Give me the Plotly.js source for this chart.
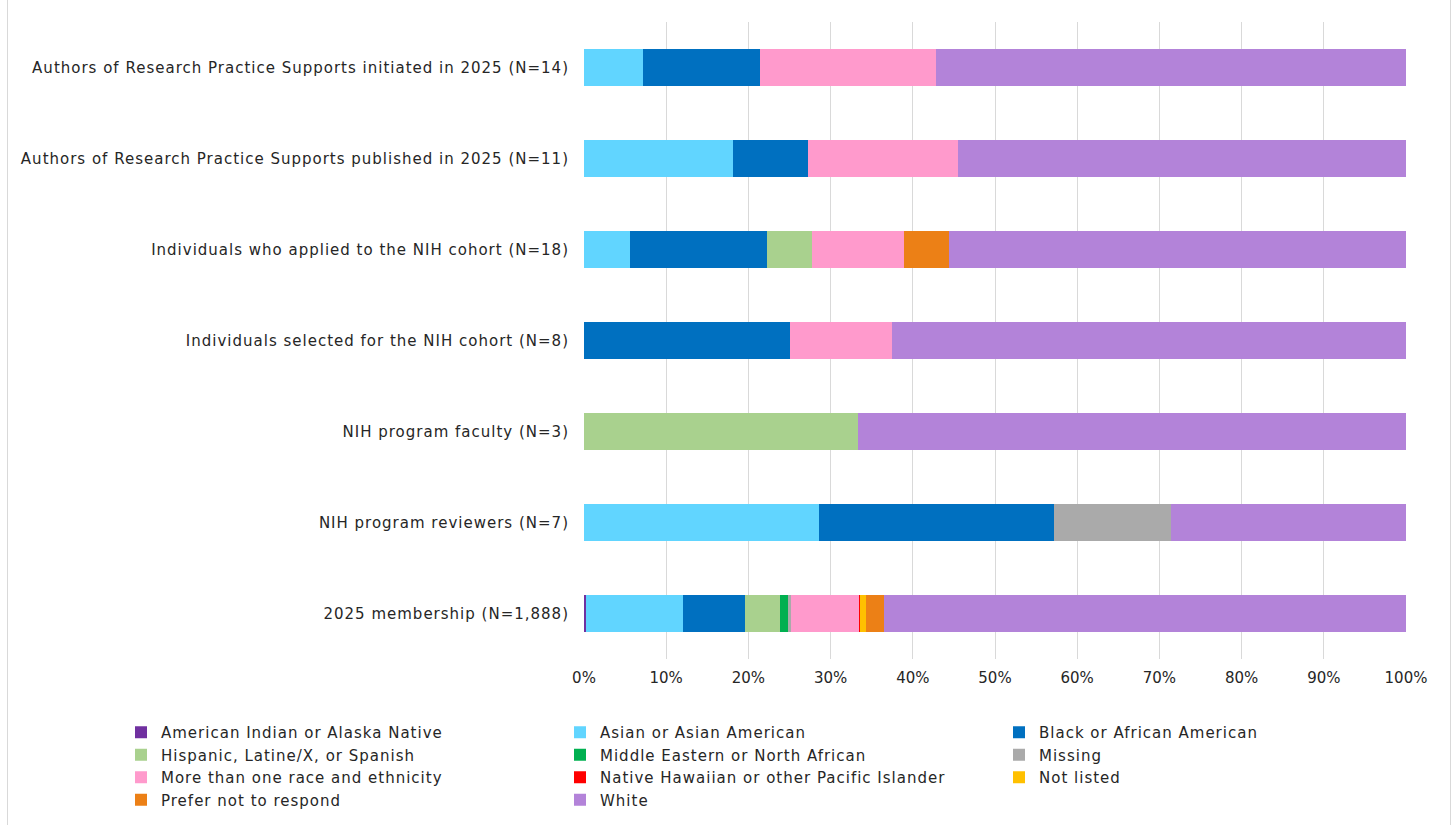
<!DOCTYPE html>
<html>
<head>
<meta charset="utf-8">
<script src="https://cdn.plot.ly/plotly-3.0.1.min.js"></script>
<style>
html,body{margin:0;padding:0;background:#fff;}
#chart{position:absolute;left:0;top:0;width:1453px;height:825px;}
#frame{position:absolute;left:7px;top:-2px;width:1442px;height:828px;border:1px solid #d9d9d9;pointer-events:none;}
#chart .ytick text, #chart .legendtext{letter-spacing:1px;}
</style>
</head>
<body>
<div id="chart"></div>
<div id="frame"></div>
<script>
// Categories (bottom to top as drawn)
const categories = [
  "2025 membership (N=1,888)",
  "NIH program reviewers (N=7)",
  "NIH program faculty (N=3)",
  "Individuals selected for the NIH cohort (N=8)",
  "Individuals who applied to the NIH cohort (N=18)",
  "Authors of Research Practice Supports published in 2025 (N=11)",
  "Authors of Research Practice Supports initiated in 2025 (N=14)"
];

const seriesNames = [
  "American Indian or Alaska Native",
  "Asian or Asian American",
  "Black or African American",
  "Hispanic, Latine/X, or Spanish",
  "Middle Eastern or North African",
  "Missing",
  "More than one race and ethnicity",
  "Native Hawaiian or other Pacific Islander",
  "Not listed",
  "Prefer not to respond",
  "White"
];

// Shares (fractions), same order as categories
const aian     = [0.002, 0,     0,     0,     0,     0,     0];
const asian    = [0.119, 0.2857,0,     0,     0.0556,0.1818,0.0714];
const black    = [0.075, 0.2857,0,     0.25,  0.1667,0.0909,0.1429];
const hispanic = [0.042, 0,     0.3333,0,     0.0556,0,     0];
const mena     = [0.010, 0,     0,     0,     0,     0,     0];
const missing  = [0.004, 0.1429,0,     0,     0,     0,     0];
const multi    = [0.082, 0,     0,     0.125, 0.1111,0.1818,0.2143];
const nhpi     = [0.002, 0,     0,     0,     0,     0,     0];
const notListed= [0.007, 0,     0,     0,     0,     0,     0];
const preferNot= [0.022, 0,     0,     0,     0.0556,0,     0];
const white    = [0.635, 0.2857,0.6667,0.625, 0.5556,0.5455,0.5714];

const seriesValues = [aian, asian, black, hispanic, mena, missing, multi, nhpi, notListed, preferNot, white];
const colors = ["#7030A0","#61D5FF","#0070C0","#A9D18E","#00B050","#AAAAAA","#FF9ACC","#FF0000","#FFC000","#EC8016","#B383D9"];

const xTickVals = [0,0.1,0.2,0.3,0.4,0.5,0.6,0.7,0.8,0.9,1];
const xTickText = ["0%","10%","20%","30%","40%","50%","60%","70%","80%","90%","100%"];

const traces = seriesNames.map((name, i) => ({
  type: "bar",
  orientation: "h",
  name: name,
  y: categories,
  x: seriesValues[i],
  marker: {color: colors[i], line: {width: 0}},
  hovertemplate: "%{y}<br>" + name + ": %{x:.1%}<extra></extra>"
}));

const font = {family: "'DejaVu Sans', sans-serif", size: 15, color: "#262626"};

const layout = {
  width: 1453,
  height: 825,
  barmode: "stack",
  bargap: 0.6,
  paper_bgcolor: "#fff",
  plot_bgcolor: "#fff",
  font: font,
  margin: {l: 584, r: 47, t: 22, b: 166, autoexpand: false},
  showlegend: true,
  legend: {
    orientation: "h",
    x: (121 - 584) / 822,
    xanchor: "left",
    y: (659 - 716) / 637,
    yanchor: "top",
    entrywidth: 394,
    entrywidthmode: "pixels",
    traceorder: "normal",
    itemwidth: 30,
    font: {family: font.family, size: 15, color: "#262626"},
    tracegroupgap: 0
  },
  xaxis: {
    range: [0, 1],
    tickvals: xTickVals,
    ticktext: xTickText,
    showgrid: true,
    gridcolor: "#d9d9d9",
    gridwidth: 1,
    zeroline: false,
    showline: false,
    ticks: "",
    ticklabelstandoff: 8,
    fixedrange: true,
    tickfont: {size: 15, color: "#262626"}
  },
  yaxis: {
    categoryorder: "array",
    categoryarray: categories,
    range: [-0.5, 6.5],
    showgrid: false,
    zeroline: false,
    showline: false,
    ticks: "",
    ticklabelstandoff: 14,
    fixedrange: true,
    tickfont: {size: 15, color: "#262626"}
  }
};

Plotly.newPlot("chart", traces, layout, {displayModeBar: false, staticPlot: true});
</script>
</body>
</html>
